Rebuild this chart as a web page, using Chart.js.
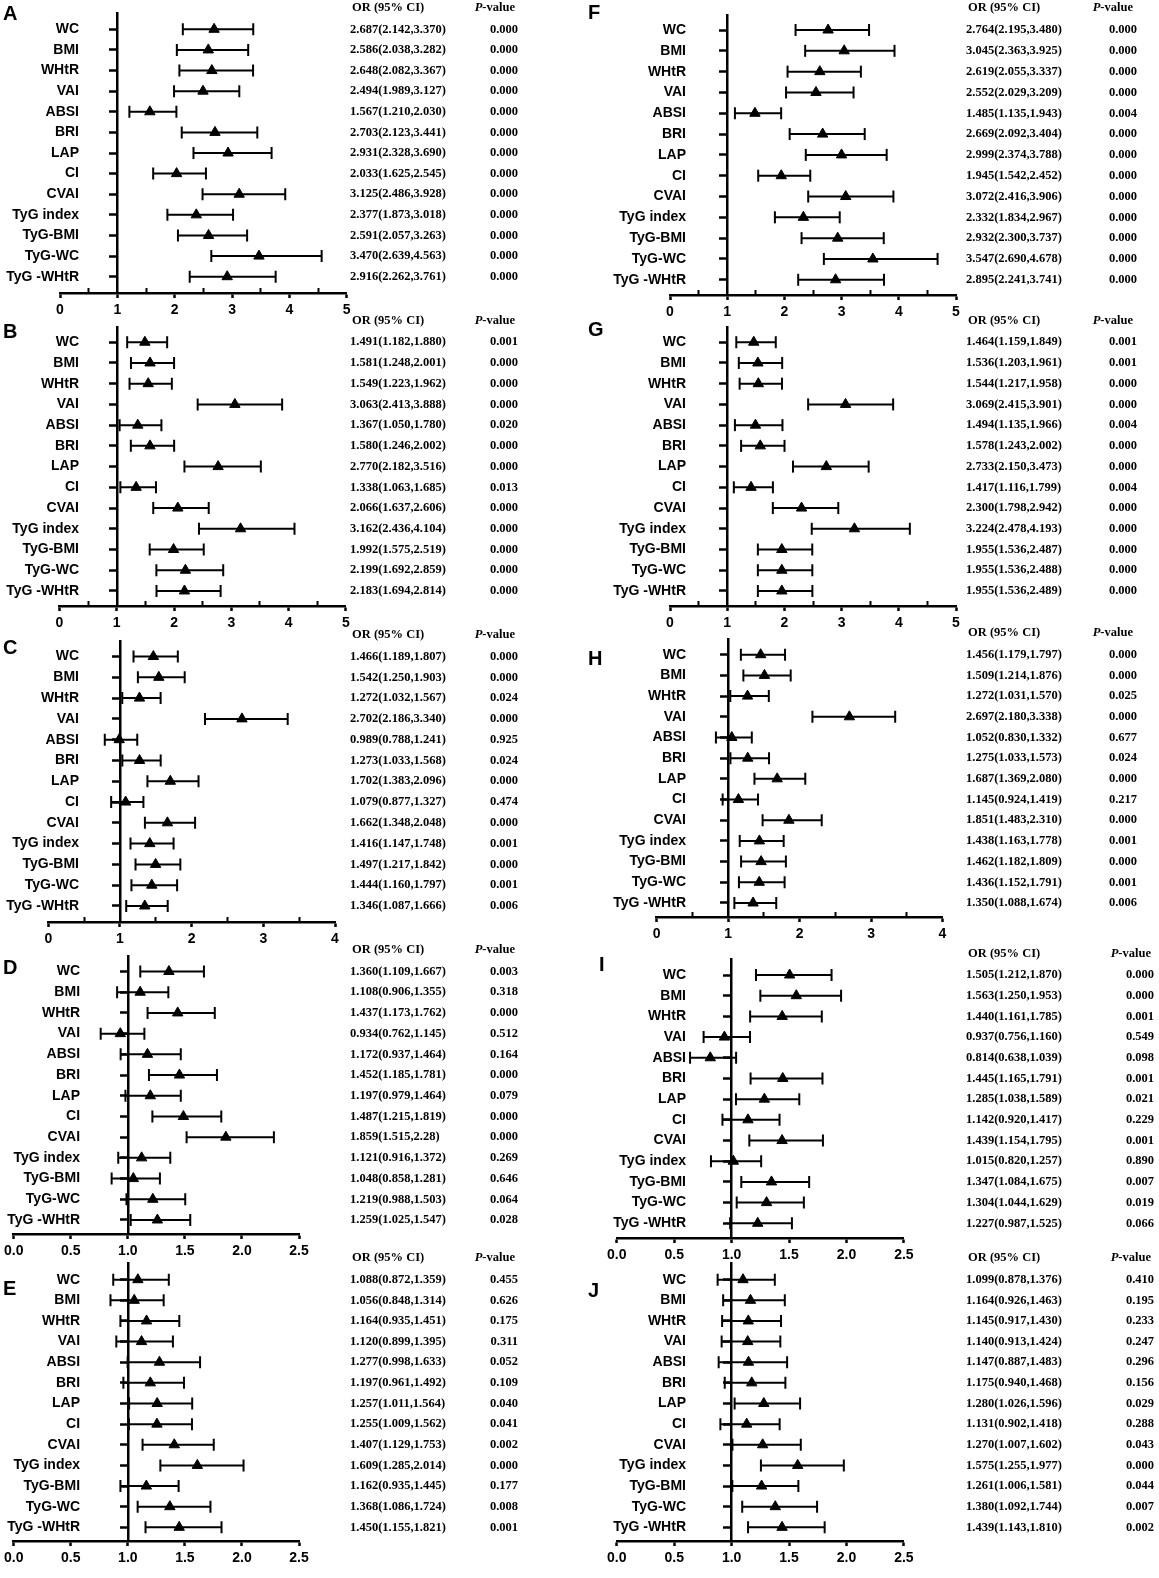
<!DOCTYPE html>
<html><head><meta charset="utf-8">
<script src="https://cdn.jsdelivr.net/npm/chart.js@4.4.1/dist/chart.umd.min.js"></script>
<style>
html,body{margin:0;padding:0;background:#fff;}
body{width:1159px;height:1578px;position:relative;overflow:hidden;}
canvas{position:absolute;display:block;}
</style></head><body>
<script>
// ---------------- DATA ----------------
const categories = ['WC','BMI','WHtR','VAI','ABSI','BRI','LAP','CI','CVAI','TyG index','TyG-BMI','TyG-WC','TyG -WHtR'];

const orA = [2.687,2.586,2.648,2.494,1.567,2.703,2.931,2.033,3.125,2.377,2.591,3.470,2.916];
const loA = [2.142,2.038,2.082,1.989,1.210,2.123,2.328,1.625,2.486,1.873,2.057,2.639,2.262];
const hiA = [3.370,3.282,3.367,3.127,2.030,3.441,3.690,2.545,3.928,3.018,3.263,4.563,3.761];
const pA  = ['0.000','0.000','0.000','0.000','0.000','0.000','0.000','0.000','0.000','0.000','0.000','0.000','0.000'];

const orB = [1.491,1.581,1.549,3.063,1.367,1.580,2.770,1.338,2.066,3.162,1.992,2.199,2.183];
const loB = [1.182,1.248,1.223,2.413,1.050,1.246,2.182,1.063,1.637,2.436,1.575,1.692,1.694];
const hiB = [1.880,2.001,1.962,3.888,1.780,2.002,3.516,1.685,2.606,4.104,2.519,2.859,2.814];
const pB  = ['0.001','0.000','0.000','0.000','0.020','0.000','0.000','0.013','0.000','0.000','0.000','0.000','0.000'];

const orC = [1.466,1.542,1.272,2.702,0.989,1.273,1.702,1.079,1.662,1.416,1.497,1.444,1.346];
const loC = [1.189,1.250,1.032,2.186,0.788,1.033,1.383,0.877,1.348,1.147,1.217,1.160,1.087];
const hiC = [1.807,1.903,1.567,3.340,1.241,1.568,2.096,1.327,2.048,1.748,1.842,1.797,1.666];
const pC  = ['0.000','0.000','0.024','0.000','0.925','0.024','0.000','0.474','0.000','0.001','0.000','0.001','0.006'];

const orD = [1.360,1.108,1.437,0.934,1.172,1.452,1.197,1.487,1.859,1.121,1.048,1.219,1.259];
const loD = [1.109,0.906,1.173,0.762,0.937,1.185,0.979,1.215,1.515,0.916,0.858,0.988,1.025];
const hiD = [1.667,1.355,1.762,1.145,1.464,1.781,1.464,1.819,2.280,1.372,1.281,1.503,1.547];
const pD  = ['0.003','0.318','0.000','0.512','0.164','0.000','0.079','0.000','0.000','0.269','0.646','0.064','0.028'];

const orE = [1.088,1.056,1.164,1.120,1.277,1.197,1.257,1.255,1.407,1.609,1.162,1.368,1.450];
const loE = [0.872,0.848,0.935,0.899,0.998,0.961,1.011,1.009,1.129,1.285,0.935,1.086,1.155];
const hiE = [1.359,1.314,1.451,1.395,1.633,1.492,1.564,1.562,1.753,2.014,1.445,1.724,1.821];
const pE  = ['0.455','0.626','0.175','0.311','0.052','0.109','0.040','0.041','0.002','0.000','0.177','0.008','0.001'];

const orF = [2.764,3.045,2.619,2.552,1.485,2.669,2.999,1.945,3.072,2.332,2.932,3.547,2.895];
const loF = [2.195,2.363,2.055,2.029,1.135,2.092,2.374,1.542,2.416,1.834,2.300,2.690,2.241];
const hiF = [3.480,3.925,3.337,3.209,1.943,3.404,3.788,2.452,3.906,2.967,3.737,4.678,3.741];
const pF  = ['0.000','0.000','0.000','0.000','0.004','0.000','0.000','0.000','0.000','0.000','0.000','0.000','0.000'];

const orG = [1.464,1.536,1.544,3.069,1.494,1.578,2.733,1.417,2.300,3.224,1.955,1.955,1.955];
const loG = [1.159,1.203,1.217,2.415,1.135,1.243,2.150,1.116,1.798,2.478,1.536,1.536,1.536];
const hiG = [1.849,1.961,1.958,3.901,1.966,2.002,3.473,1.799,2.942,4.193,2.487,2.488,2.489];
const pG  = ['0.001','0.001','0.000','0.000','0.004','0.000','0.000','0.004','0.000','0.000','0.000','0.000','0.000'];

const orH = [1.456,1.509,1.272,2.697,1.052,1.275,1.687,1.145,1.851,1.438,1.462,1.436,1.350];
const loH = [1.179,1.214,1.031,2.180,0.830,1.033,1.369,0.924,1.483,1.163,1.182,1.152,1.088];
const hiH = [1.797,1.876,1.570,3.338,1.332,1.573,2.080,1.419,2.310,1.778,1.809,1.791,1.674];
const pH  = ['0.000','0.000','0.025','0.000','0.677','0.024','0.000','0.217','0.000','0.001','0.000','0.001','0.006'];

const orI = [1.505,1.563,1.440,0.937,0.814,1.445,1.285,1.142,1.439,1.015,1.347,1.304,1.227];
const loI = [1.212,1.250,1.161,0.756,0.638,1.165,1.038,0.920,1.154,0.820,1.084,1.044,0.987];
const hiI = [1.870,1.953,1.785,1.160,1.039,1.791,1.589,1.417,1.795,1.257,1.675,1.629,1.525];
const pI  = ['0.000','0.000','0.001','0.549','0.098','0.001','0.021','0.229','0.001','0.890','0.007','0.019','0.066'];

const orJ = [1.099,1.164,1.145,1.140,1.147,1.175,1.280,1.131,1.270,1.575,1.261,1.380,1.439];
const loJ = [0.878,0.926,0.917,0.913,0.887,0.940,1.026,0.902,1.007,1.255,1.006,1.092,1.143];
const hiJ = [1.376,1.463,1.430,1.424,1.483,1.468,1.596,1.418,1.602,1.977,1.581,1.744,1.810];
const pJ  = ['0.410','0.195','0.233','0.247','0.296','0.156','0.029','0.288','0.043','0.000','0.044','0.007','0.002'];

// text exactly as printed where it differs from 3-decimal formatting
const textOverride = { D: { 8: '1.859(1.515,2.28)' } };

const headerOR = 'OR (95% CI)';
const headerP1 = 'P';
const headerP2 = '-value';

// ---------------- LAYOUT ----------------
const FONT_SANS = '"Liberation Sans", Arial, Helvetica, sans-serif';
const FONT_SERIF = '"Liberation Serif", "Times New Roman", serif';
const LABEL_FONT = 'bold 14px ' + FONT_SANS;

const panels = [
  {id:'A', or:orA, lo:loA, hi:hiA, p:pA, col:0, top:13,    row0:29.3,  row12:276.7,  axis:293,    x0:60,    x1:346.7, xMax:5,   step:1,   dec:0, minor:true,  lx:3,   ly:14,    pRight:518,  pHead:515},
  {id:'B', or:orB, lo:loB, hi:hiB, p:pB, col:0, top:326.5, row0:341.7, row12:590,    axis:605,    x0:59.5,  x1:345.8, xMax:5,   step:1,   dec:0, minor:true,  lx:3,   ly:331.5, pRight:518,  pHead:515},
  {id:'C', or:orC, lo:loC, hi:hiC, p:pC, col:0, top:640.5, row0:656,   row12:905,    axis:921,    x0:48.3,  x1:335,   xMax:4,   step:1,   dec:0, minor:true,  lx:3,   ly:648,   pRight:518,  pHead:515},
  {id:'D', or:orD, lo:loD, hi:hiD, p:pD, col:0, top:955.5, row0:971,   row12:1219.3, axis:1233.3, x0:12.7,  x1:299,   xMax:2.5, step:0.5, dec:1, minor:false, lx:3,   ly:968,   pRight:518,  pHead:515},
  {id:'E', or:orE, lo:loE, hi:hiE, p:pE, col:0, top:1263.3,row0:1280,  row12:1528,   axis:1541.7, x0:12.7,  x1:299,   xMax:2.5, step:0.5, dec:1, minor:false, lx:3,   ly:1290,  pRight:518,  pHead:515},
  {id:'F', or:orF, lo:loF, hi:hiF, p:pF, col:1, top:15,    row0:30,    row12:279.3,  axis:294.5,  x0:670,   x1:956,   xMax:5,   step:1,   dec:0, minor:true,  lx:588, ly:13.5,  pRight:1137, pHead:1133},
  {id:'G', or:orG, lo:loG, hi:hiG, p:pG, col:1, top:326.5, row0:341.7, row12:590,    axis:605,    x0:670,   x1:956,   xMax:5,   step:1,   dec:0, minor:true,  lx:588, ly:330,   pRight:1137, pHead:1133},
  {id:'H', or:orH, lo:loH, hi:hiH, p:pH, col:1, top:639,   row0:654.7, row12:902.7,  axis:916.7,  x0:656.6, x1:942.5, xMax:4,   step:1,   dec:0, minor:true,  lx:588, ly:659,   pRight:1137, pHead:1133},
  {id:'I', or:orI, lo:loI, hi:hiI, p:pI, col:1, top:959,   row0:975,   row12:1223.3, axis:1238,   x0:616.8, x1:903.9, xMax:2.5, step:0.5, dec:1, minor:false, lx:599, ly:965,   pRight:1154, pHead:1151},
  {id:'J', or:orJ, lo:loJ, hi:hiJ, p:pJ, col:1, top:1263.3,row0:1280,  row12:1528,   axis:1541.7, x0:616.8, x1:903.9, xMax:2.5, step:0.5, dec:1, minor:false, lx:588, ly:1292,  pRight:1154, pHead:1151}
];

Chart.defaults.animation = false;
Chart.defaults.events = [];
Chart.defaults.plugins.legend.display = false;
Chart.defaults.plugins.tooltip.enabled = false;
Chart.defaults.color = '#000';

// widest category label (used to right-align mirrored tick labels)
const measureCtx = document.createElement('canvas').getContext('2d');
measureCtx.font = LABEL_FONT;
const widestLabel = Math.max(...categories.map(c => measureCtx.measureText(c).width));

function fmt(v){ return v.toFixed(3); }

function buildPanel(pn) {
  const colLeft = pn.col ? 580 : 0;
  const colW = pn.col ? 579 : 580;
  const labelRight = pn.col ? 686 : 79;
  const orX = pn.col ? 966 : 350;
  const s = (pn.row12 - pn.row0) / 12;
  const yMin = -(pn.row0 - pn.top) / s;
  const yMax = 12 + (pn.axis - pn.row12) / s;
  const padTop = 40, axisH = 30, padBottom = 2;
  const cTop = pn.top - padTop;
  const cH = Math.round((pn.axis - pn.top) + padTop + axisH + padBottom);

  const canvas = document.createElement('canvas');
  canvas.width = colW; canvas.height = cH;
  canvas.style.left = colLeft + 'px';
  canvas.style.top = cTop + 'px';
  canvas.style.width = colW + 'px';
  canvas.style.height = cH + 'px';
  document.body.appendChild(canvas);

  const pointData = pn.or.map((v, i) => ({x: v, y: i}));
  const barData = [];
  pn.lo.forEach((lo, i) => {
    barData.push({x: lo, y: i});
    barData.push({x: pn.hi[i], y: i});
    barData.push({x: null, y: null});
  });

  const rowTicks = s2 => { s2.ticks = categories.map((c, i) => ({value: i})); };

  const scales = {
    x: {
      type: 'linear', axis: 'x', position: 'bottom', weight: 0, min: 0, max: pn.xMax,
      afterFit: sc => { sc.height = axisH; },
      ticks: {stepSize: pn.step, autoSkip: false, maxRotation: 0, padding: 4, color: '#000',
        font: {family: FONT_SANS, size: 14, weight: 'bold'},
        callback: v => Number(v).toFixed(pn.dec)},
      grid: {drawOnChartArea: false, drawTicks: true, tickLength: 5, tickWidth: 2.5, tickColor: '#000'},
      border: {display: true, color: '#000', width: 2.5}
    },
    y: {
      type: 'linear', axis: 'y', position: 'left', reverse: true, min: yMin, max: yMax,
      afterBuildTicks: rowTicks,
      afterFit: sc => { sc.width = pn.x0 - colLeft; },
      ticks: {autoSkip: false, mirror: true, crossAlign: 'far',
        padding: (labelRight - pn.x0) - widestLabel, color: '#000',
        font: {family: FONT_SANS, size: 14, weight: 'bold'},
        callback: (v, i) => categories[i]},
      grid: {display: false, drawTicks: false},
      border: {display: false}
    },
    y2: {
      type: 'linear', axis: 'y', position: {x: 1}, reverse: true, min: yMin, max: yMax,
      afterBuildTicks: rowTicks,
      ticks: {display: false},
      grid: {drawOnChartArea: false, drawTicks: true, tickLength: 7, tickWidth: 2.5, tickColor: '#000'},
      border: {display: true, color: '#000', width: 2.5}
    }
  };
  if (pn.minor) {
    scales.xm = {
      type: 'linear', axis: 'x', position: 'bottom', weight: -1, min: 0, max: pn.xMax,
      afterFit: sc => { sc.height = 0; },
      ticks: {display: false, stepSize: 0.5},
      grid: {drawOnChartArea: false, drawTicks: true, tickLength: -5, tickWidth: 2,
        tickColor: ctx => (ctx.tick && Math.abs(ctx.tick.value % 1) > 0.01) ? '#000' : 'rgba(0,0,0,0)'},
      border: {display: false}
    };
  }

  const textPlugin = {
    id: 'forestText' + pn.id,
    afterDraw(chart) {
      const ctx = chart.ctx;
      const ys = chart.scales.y;
      ctx.save();
      ctx.fillStyle = '#000';
      ctx.textBaseline = 'middle';
      // panel letter
      ctx.font = 'bold 20px ' + FONT_SANS;
      ctx.textAlign = 'left';
      ctx.fillText(pn.id, pn.lx - colLeft, pn.ly - cTop);
      // headers
      const hy = ys.getPixelForValue(-1.05);
      ctx.font = 'bold 12.5px ' + FONT_SERIF;
      ctx.fillText(headerOR, orX + 2 - colLeft, hy);
      const fI = 'italic bold 12.5px ' + FONT_SERIF;
      const fB = 'bold 12.5px ' + FONT_SERIF;
      ctx.font = fI; const w1 = ctx.measureText(headerP1).width;
      ctx.font = fB; const w2 = ctx.measureText(headerP2).width;
      const hx = pn.pHead - colLeft - (w1 + w2);
      ctx.font = fI; ctx.fillText(headerP1, hx, hy);
      ctx.font = fB; ctx.fillText(headerP2, hx + w1, hy);
      // rows
      const ov = textOverride[pn.id] || {};
      pn.or.forEach((v, i) => {
        const y = ys.getPixelForValue(i);
        const t = ov[i] || (fmt(v) + '(' + fmt(pn.lo[i]) + ',' + fmt(pn.hi[i]) + ')');
        ctx.textAlign = 'left';
        ctx.fillText(t, orX - colLeft, y);
        ctx.textAlign = 'right';
        ctx.fillText(pn.p[i], pn.pRight - colLeft, y);
      });
      ctx.restore();
    }
  };

  new Chart(canvas, {
    type: 'scatter',
    data: {
      datasets: [
        {label: 'OR', data: pointData, xAxisID: 'x', yAxisID: 'y', showLine: false,
         pointStyle: 'triangle', pointRadius: 6, backgroundColor: '#000', borderColor: '#000', borderWidth: 1},
        {label: '95% CI', data: barData, xAxisID: 'x', yAxisID: 'y', showLine: true, spanGaps: false,
         borderColor: '#000', borderWidth: 2, pointStyle: 'line', pointRotation: 90, pointRadius: 6,
         pointBorderWidth: 2, pointBorderColor: '#000', pointBackgroundColor: '#000'}
      ]
    },
    options: {
      responsive: false,
      maintainAspectRatio: false,
      layout: {padding: {top: padTop, left: 0, right: colW - (pn.x1 - colLeft), bottom: padBottom}},
      scales: scales
    },
    plugins: [textPlugin]
  });
}

panels.forEach(buildPanel);
</script>
</body></html>
